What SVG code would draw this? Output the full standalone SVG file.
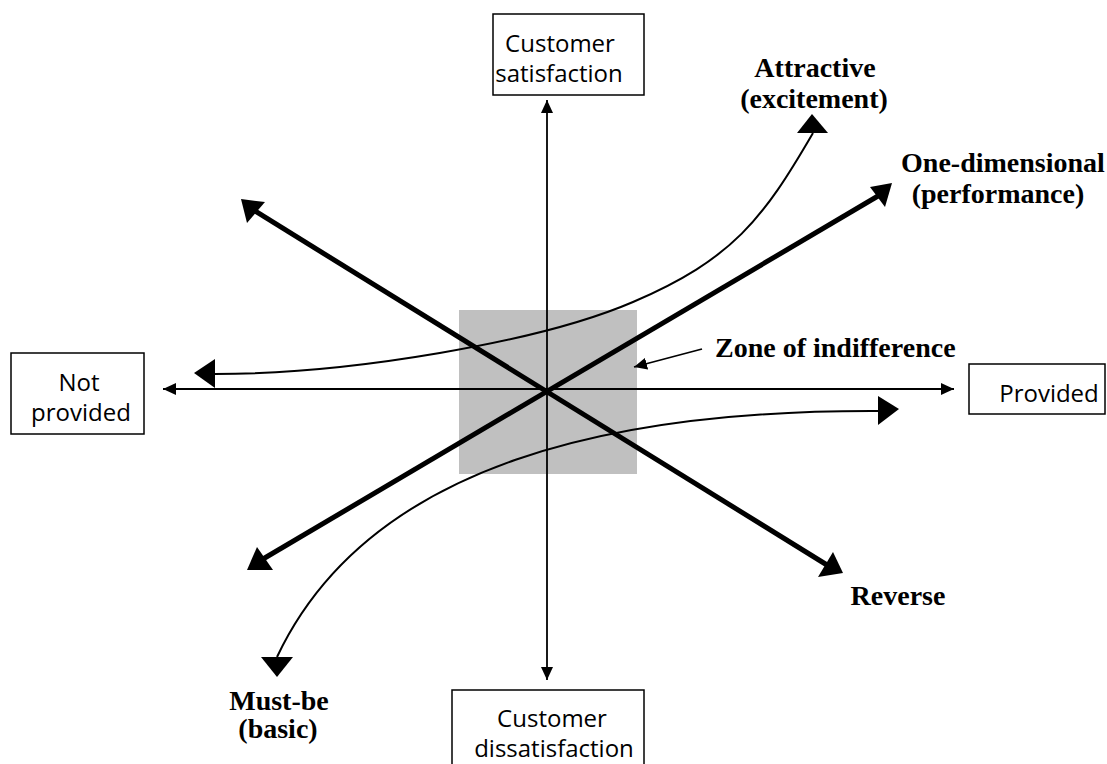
<svg xmlns="http://www.w3.org/2000/svg" width="1107" height="764" viewBox="0 0 1107 764">
<style>
.box{fill:#fff;stroke:#000;stroke-width:1.5}
.bt{font-family:"Open Sans","DejaVu Sans",sans-serif;font-size:24px;fill:#000;text-anchor:middle}
.lab{font-family:"Liberation Serif","Times New Roman",serif;font-size:28px;font-weight:bold;fill:#000}
.axis{stroke:#000;stroke-width:1.8;fill:none}
.curve{stroke:#000;stroke-width:2;fill:none}
.thick{stroke:#000;stroke-width:5;fill:none}
.head{fill:#000;stroke:none}
</style>
<defs>
<marker id="sa" markerUnits="userSpaceOnUse" markerWidth="13" markerHeight="12" refX="13" refY="6" orient="auto-start-reverse" viewBox="0 0 13 12">
<path d="M0,0 L13,6 L0,12 z" fill="#000"/>
</marker>
</defs>
<rect width="1107" height="764" fill="#fff"/>
<g id="zone-of-indifference">
<rect x="459" y="310" width="178" height="164" fill="#c0c0c0"/>
</g>
<g id="connectors">
<line class="axis" x1="163" y1="389" x2="954" y2="389" marker-start="url(#sa)" marker-end="url(#sa)"/>
<line class="axis" x1="547" y1="100" x2="547" y2="680" marker-start="url(#sa)" marker-end="url(#sa)"/>
<path class="curve" d="M215,374 C350,374 540,342 633,302 C733,259 763,219 813,133"/>
<polygon class="head" points="812,114 797,133 828,133"/>
<polygon class="head" points="194,373 215,359 215,388"/>
<path class="curve" d="M878,411 C620,410 370,460 277,657"/>
<polygon class="head" points="899,409 878,396 878,425"/>
<polygon class="head" points="277,677 261,657 293,657"/>
<line class="thick" x1="263" y1="559" x2="878" y2="196"/>
<polygon class="head" points="892,183 885,207 870,187"/>
<polygon class="head" points="247,570 273,570 257,547"/>
<line class="thick" x1="255" y1="211" x2="827" y2="565"/>
<polygon class="head" points="241,199 265,202 247,223"/>
<polygon class="head" points="843,573 833,552 818,577"/>
<line class="axis" x1="702" y1="349" x2="634" y2="367" marker-end="url(#sa)"/>
</g>
<g id="box-satisfaction">
<rect class="box" x="493" y="14" width="151" height="81"/>
<text class="bt" x="560" y="52">Customer</text>
<text class="bt" x="559" y="82">satisfaction</text>
</g>
<g id="box-dissatisfaction">
<rect class="box" x="452" y="690" width="192" height="90"/>
<text class="bt" x="552" y="727">Customer</text>
<text class="bt" x="554" y="757">dissatisfaction</text>
</g>
<g id="box-not-provided">
<rect class="box" x="11" y="353" width="133" height="81"/>
<text class="bt" x="79" y="391">Not</text>
<text class="bt" x="81" y="421">provided</text>
</g>
<g id="box-provided">
<rect class="box" x="969" y="364" width="136" height="50"/>
<text class="bt" x="1049" y="402">Provided</text>
</g>
<g id="label-attractive">
<text class="lab" x="815" y="77" text-anchor="middle">Attractive</text>
<text class="lab" x="814" y="108" text-anchor="middle">(excitement)</text>
</g>
<g id="label-one-dimensional">
<text class="lab" x="1003" y="172" text-anchor="middle">One-dimensional</text>
<text class="lab" x="998" y="203" text-anchor="middle">(performance)</text>
</g>
<g id="label-zone">
<text class="lab" x="715" y="357">Zone of indifference</text>
</g>
<g id="label-reverse">
<text class="lab" x="898" y="605" text-anchor="middle">Reverse</text>
</g>
<g id="label-must-be">
<text class="lab" x="279" y="710" text-anchor="middle">Must-be</text>
<text class="lab" x="278" y="738" text-anchor="middle">(basic)</text>
</g>
</svg>
